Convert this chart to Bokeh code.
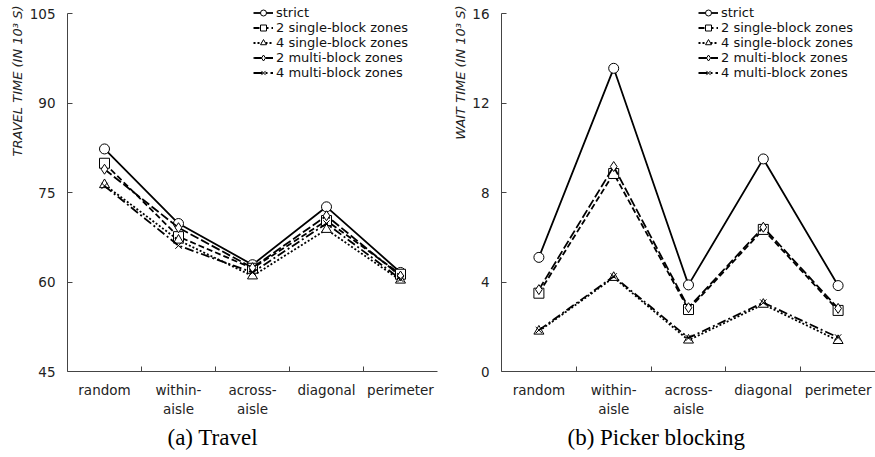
import math
from bokeh.plotting import figure
from bokeh.models import (FixedTicker, Range1d, Legend, LegendItem, Title)
from bokeh.layouts import row
from bokeh.embed import file_html
from bokeh.resources import INLINE

categories = ["random", "within-\naisle", "across-\naisle", "diagonal", "perimeter"]
series_names = ["strict", "2 single-block zones", "4 single-block zones",
                "2 multi-block zones", "4 multi-block zones"]

travel_strict = [82.3, 69.8, 62.9, 72.6, 61.6]
travel_2single = [79.9, 67.6, 62.3, 70.3, 61.3]
travel_4single = [76.3, 67.0, 61.0, 68.8, 60.3]
travel_2multi = [78.9, 69.1, 62.4, 71.1, 61.0]
travel_4multi = [76.1, 66.1, 61.6, 69.8, 60.5]

wait_strict = [5.1, 13.55, 3.87, 9.5, 3.84]
wait_2single = [3.5, 8.85, 2.77, 6.35, 2.73]
wait_4single = [1.8, 4.2, 1.4, 3.0, 1.38]
wait_2multi = [3.66, 9.16, 2.85, 6.45, 2.82]
wait_4multi = [1.85, 4.25, 1.5, 3.08, 1.52]

travel_ticks = [45, 60, 75, 90, 105]
wait_ticks = [0, 4, 8, 12, 16]

styles = [
    dict(dash="solid", marker="circle"),
    dict(dash="6 3", marker="square"),
    dict(dash="2 2", marker="triangle"),
    dict(dash="9 3", marker="diamond"),
    dict(dash="9 3 2 3", marker="x"),
]

FONT = "DejaVu Sans"
xs = [i + 0.5 for i in range(len(categories))]

FRAME_H = 366      # frame from y=5 to y=371
AXIS_TOP_GAP = 8   # axis top tick sits 8px below frame top


def make_plot(series, yticks, ylabel, caption, frame_w, border_left, border_right,
              legend_x, caption_off):
    span = yticks[-1] - yticks[0]
    top = yticks[-1] + span * AXIS_TOP_GAP / (FRAME_H - AXIS_TOP_GAP)
    p = figure(frame_width=frame_w, frame_height=FRAME_H,
               output_backend="svg", toolbar_location=None,
               x_range=Range1d(0, len(categories)),
               y_range=Range1d(yticks[0], top),
               min_border_left=border_left, min_border_right=border_right,
               min_border_top=5, min_border_bottom=80)
    p.outline_line_color = None
    p.xgrid.visible = False
    p.ygrid.visible = False

    items = []
    for name, ys, st in zip(series_names, series, styles):
        lr = p.line(xs, ys, line_color="black", line_width=1.8, line_dash=st["dash"])
        sr = p.scatter(xs, ys, marker=st["marker"], size=10 if st["marker"] != "x" else 9,
                       line_color="black", fill_color="white", line_width=1)
        items.append(LegendItem(label=name, renderers=[lr, sr]))

    leg = Legend(items=items, location=(legend_x, FRAME_H - 75), orientation="vertical",
                 glyph_width=20, glyph_height=15, label_height=15, spacing=0,
                 padding=0, margin=0, label_standoff=3,
                 label_text_font=FONT, label_text_font_size="13px",
                 label_text_color="#111", border_line_color=None,
                 background_fill_alpha=0)
    p.add_layout(leg, "center")

    xa = p.xaxis[0]
    xa.ticker = FixedTicker(ticks=xs, minor_ticks=[1, 2, 3, 4])
    xa.major_label_overrides = {x: c for x, c in zip(xs, categories)}
    xa.major_tick_in = 0
    xa.major_tick_out = 0
    xa.minor_tick_in = 5
    xa.minor_tick_out = 0
    xa.major_label_standoff = 10
    xa.major_label_text_font = FONT
    xa.major_label_text_font_size = "13.5px"
    xa.major_label_text_color = "#222"
    xa.axis_line_color = "#444"
    xa.minor_tick_line_color = "#444"

    ya = p.yaxis[0]
    ya.ticker = FixedTicker(ticks=yticks, minor_ticks=[])
    ya.bounds = (yticks[0], yticks[-1])
    ya.major_tick_in = 5
    ya.major_tick_out = 0
    ya.major_label_standoff = 12
    ya.major_label_text_font = FONT
    ya.major_label_text_font_size = "13.5px"
    ya.major_label_text_color = "#222"
    ya.axis_line_color = "#444"
    ya.major_tick_line_color = "#444"

    p.add_layout(Title(text=ylabel, align="right", text_font=FONT,
                       text_font_style="italic", text_font_size="13px",
                       text_color="#222", offset=0, standoff=4), "left")
    p.add_layout(Title(text=caption, align="left", offset=caption_off,
                       text_font="Liberation Serif", text_font_style="normal",
                       text_font_size="23px", text_color="black", standoff=6), "below")
    return p


p1 = make_plot([travel_strict, travel_2single, travel_4single, travel_2multi, travel_4multi],
               travel_ticks, "TRAVEL TIME (IN 10³ S)", "(a)  Travel", 370, 67, 3, 186, 100)
p2 = make_plot([wait_strict, wait_2single, wait_4single, wait_2multi, wait_4multi],
               wait_ticks, "WAIT TIME (IN 10³ S)", "(b)  Picker blocking", 374, 61, 0, 197, 66)

layout = row(p1, p2, spacing=0)
open("out.html", "w").write(file_html(layout, INLINE))
